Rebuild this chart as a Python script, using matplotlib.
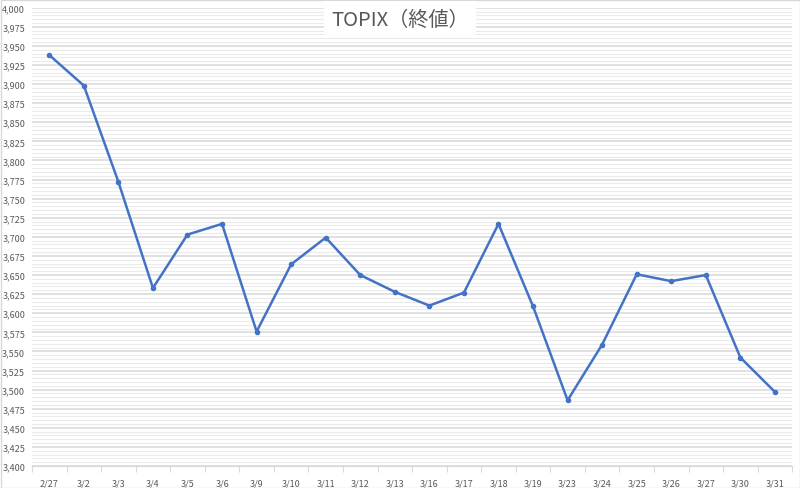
import matplotlib
matplotlib.use("Agg")
import matplotlib.pyplot as plt
from matplotlib.ticker import MultipleLocator, FuncFormatter
from matplotlib.patches import Rectangle

dates = ["2/27", "3/2", "3/3", "3/4", "3/5", "3/6", "3/9", "3/10", "3/11", "3/12",
         "3/13", "3/16", "3/17", "3/18", "3/19", "3/23", "3/24", "3/25", "3/26",
         "3/27", "3/30", "3/31"]
values = [3938, 3898, 3772, 3633, 3703, 3717, 3576, 3664, 3699, 3650,
          3628, 3610, 3627, 3717, 3609, 3486, 3559, 3651, 3642, 3650, 3542, 3497]
title = "TOPIX（終値）"

plt.rcParams['font.family'] = ['Noto Sans CJK JP', 'DejaVu Sans']

fig = plt.figure(figsize=(8, 4.89), dpi=100)
ax = fig.add_axes([32 / 800, 1 - 467 / 489, (792.2 - 32) / 800, (467 - 8.7) / 489])

x = list(range(len(dates)))
ax.plot(x, values, color="#4472C4", lw=1.8, marker="o", ms=3.0, zorder=3)

ax.set_xlim(-0.5, len(dates) - 0.5)
ax.set_ylim(3400, 4000)
ax.yaxis.set_major_locator(MultipleLocator(25))
ax.yaxis.set_minor_locator(MultipleLocator(5))
ax.yaxis.set_major_formatter(FuncFormatter(lambda v, p: f"{int(v):,}"))
ax.grid(which="major", axis="y", color="#d9d9d9", lw=1.1)
ax.grid(which="minor", axis="y", color="#ebebeb", lw=0.8)
ax.set_axisbelow(True)

ax.set_xticks(x)
ax.set_xticklabels(dates)
ax.set_xticks([i - 0.5 for i in range(len(dates) + 1)], minor=True)
ax.tick_params(axis="x", which="major", length=0, pad=9, labelsize=6.5, labelcolor="#595959")
ax.tick_params(axis="x", which="minor", length=4, color="#d9d9d9", width=0.8)
ax.tick_params(axis="y", which="both", length=0, pad=5, labelsize=6.5, labelcolor="#595959")

for s in ["top", "right", "left"]:
    ax.spines[s].set_visible(False)
ax.spines["bottom"].set_color("#d9d9d9")
ax.spines["bottom"].set_linewidth(0.8)

fig.text(0.5, 1 - 20 / 489, title, ha="center", va="center", fontsize=14.5,
         color="#595959",
         bbox=dict(facecolor="white", edgecolor="none", boxstyle="square,pad=0.35"))

fig.patches.append(Rectangle((0.5 / 800, 0.5 / 489), 799 / 800, 488 / 489,
                             transform=fig.transFigure, fill=False,
                             edgecolor="#d9d9d9", lw=1))

fig.savefig("out.png", dpi=100)
